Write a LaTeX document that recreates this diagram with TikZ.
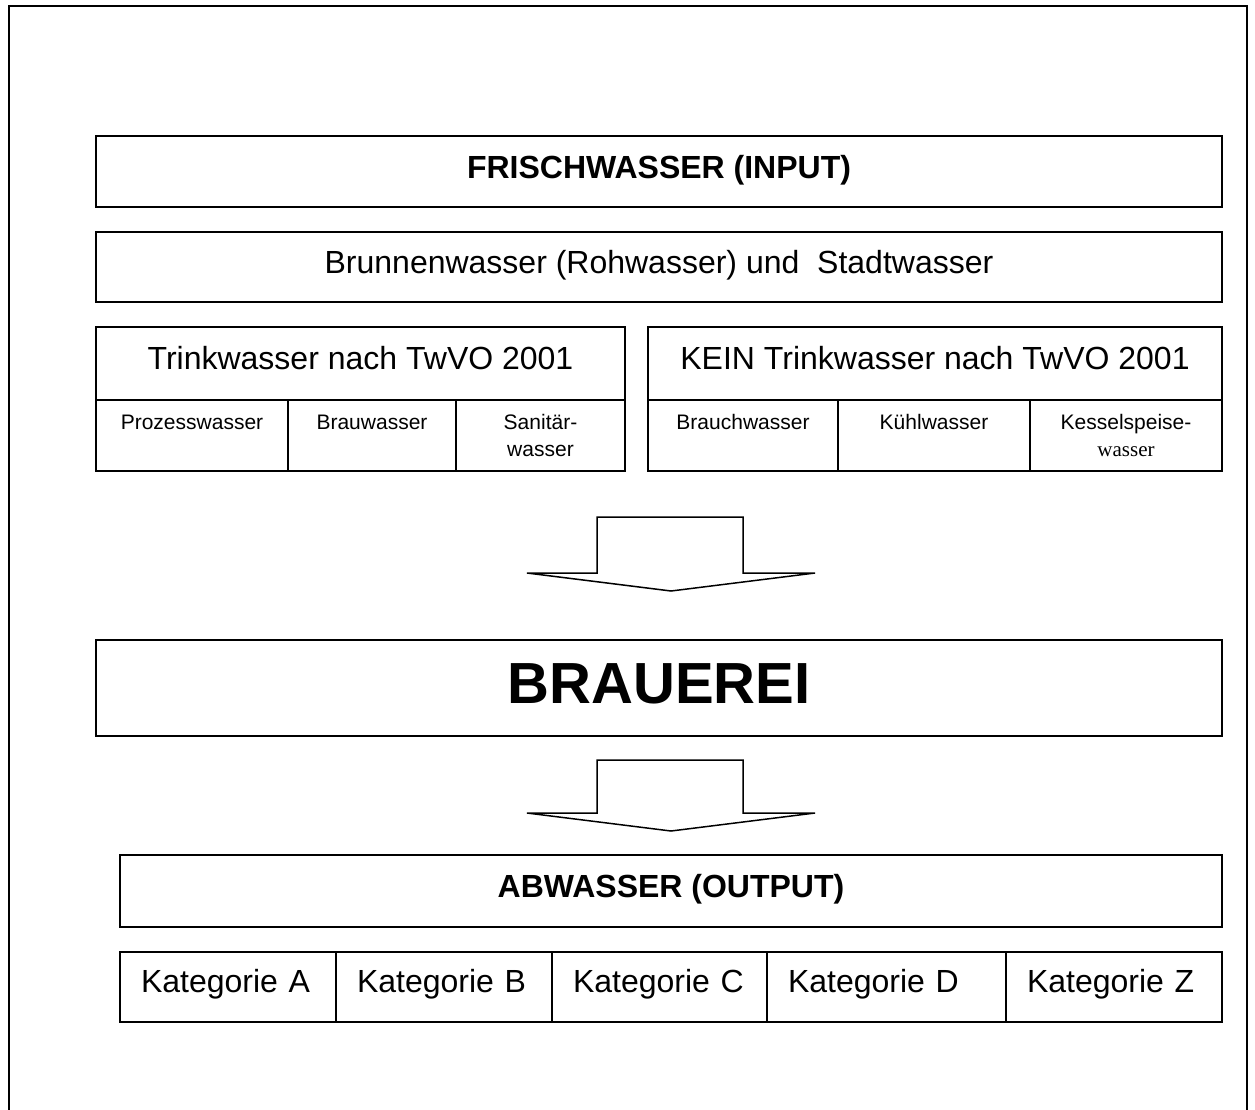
\documentclass[tikz,border=0pt]{standalone}
\usepackage{fontspec}
\setmainfont{Liberation Sans}
\newfontfamily\timesfont{Liberation Serif}
\usetikzlibrary{positioning}

\begin{document}
\begin{tikzpicture}[x=1pt, y=-1pt,
    every node/.style={draw, line width=1.2pt, inner sep=0pt, outer sep=0pt},
    bar/.style={minimum height=71pt, text depth=10pt, font=\fontsize{32}{38}\selectfont},
    head/.style={minimum height=73pt, text depth=12pt, font=\fontsize{32}{38}\selectfont},
    cell/.style={minimum height=71pt, align=center, font=\fontsize{21}{27}\selectfont},
    kat/.style={minimum height=70pt, text depth=12pt, inner xsep=21pt, align=left,
                font=\fontsize{32}{38}\selectfont},
    blockarr/.style={line width=1.5pt, line join=miter}]
  \useasboundingbox (0,0) rectangle (1255,1110);
  \draw[line width=2.4pt] (9,1110) -- (9,6) -- (1247,6) -- (1247,1110);

  % input
  \node[bar, minimum width=1126pt, anchor=north west] (frisch) at (96,136) {\bfseries FRISCHWASSER (INPUT)};
  \node[bar, minimum width=1126pt, minimum height=70pt, anchor=north west] (brunnen) at (96,232)
       {Brunnenwasser (Rohwasser) und~~Stadtwasser};

  \node[head, minimum width=529pt, anchor=north west] (trink) at (96,327) {Trinkwasser nach TwVO 2001};
  \node[cell, minimum width=192pt, anchor=north west] (proz) at (trink.south west) {Prozesswasser\\\phantom{w}};
  \node[cell, minimum width=168pt, right=0pt of proz] (brauw) {Brauwasser\\\phantom{w}};
  \node[cell, minimum width=169pt, right=0pt of brauw] (sanit) {Sanitär-\\wasser};

  \node[head, minimum width=574pt, anchor=north west] (kein) at (648,327) {KEIN Trinkwasser nach TwVO 2001};
  \node[cell, minimum width=190pt, anchor=north west] (brauch) at (kein.south west) {Brauchwasser\\\phantom{w}};
  \node[cell, minimum width=192pt, right=0pt of brauch] (kuehl) {Kühlwasser\\\phantom{w}};
  \node[cell, minimum width=192pt, right=0pt of kuehl] (kessel) {Kesselspeise-\\{\timesfont wasser}};

  \draw[blockarr] (597,517) -- ++(146,0) -- ++(0,56) -- ++(72,0) -- ++(-144,18)
                  -- ++(-144,-18) -- ++(70,0) -- cycle;

  % brewery
  \node[minimum width=1126pt, minimum height=96pt, text depth=8pt, anchor=north west,
        font=\fontsize{58}{68}\selectfont\bfseries] (brauerei) at (96,640) {BRAUEREI};

  \draw[blockarr] (597,760) -- ++(146,0) -- ++(0,53) -- ++(72,0) -- ++(-144,18)
                  -- ++(-144,-18) -- ++(70,0) -- cycle;

  % output
  \node[bar, minimum width=1102pt, minimum height=72pt, anchor=north west] (abw) at (120,855) {\bfseries ABWASSER (OUTPUT)};

  \node[kat, text width=174pt, anchor=north west] (katA) at (120,952) {Kategorie A};
  \node[kat, text width=174pt, right=0pt of katA] (katB) {Kategorie B};
  \node[kat, text width=173pt, right=0pt of katB] (katC) {Kategorie C};
  \node[kat, text width=197pt, right=0pt of katC] (katD) {Kategorie D};
  \node[kat, text width=174pt, right=0pt of katD] (katZ) {Kategorie Z};
\end{tikzpicture}
\end{document}
